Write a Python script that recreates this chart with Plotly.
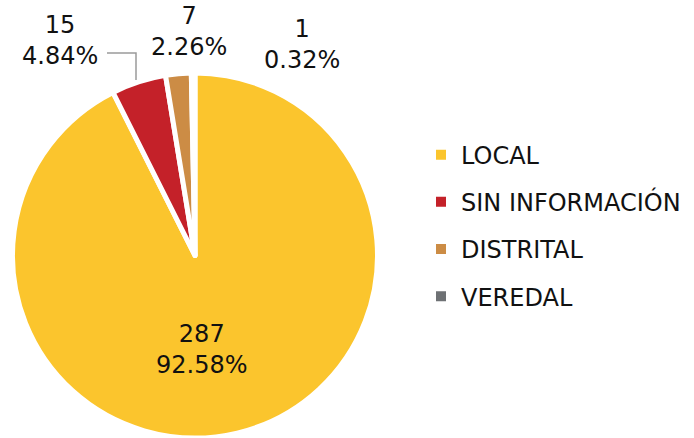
import plotly.graph_objects as go

labels = ["LOCAL", "SIN INFORMACIÓN", "DISTRITAL", "VEREDAL"]
values = [287, 15, 7, 1]
colors = ["#FBC52D", "#C42129", "#CC8C45", "#6E7174"]

FONT = "DejaVu Sans"
W, H = 694, 438

total = sum(values)
percents = [v / total * 100 for v in values]

fig = go.Figure()
fig.add_trace(go.Pie(
    labels=labels,
    values=values,
    marker=dict(colors=colors, line=dict(color="white", width=5)),
    sort=False,
    direction="clockwise",
    rotation=0,
    textinfo="none",
    showlegend=False,
    domain=dict(x=[12 / W, 378 / W], y=[0, 1 - 73 / H]),
    hoverinfo="label+value+percent",
))

for lab, col in zip(labels, colors):
    fig.add_trace(go.Scatter(
        x=[None], y=[None], mode="markers", name=lab,
        marker=dict(symbol="square", size=10, color=col),
        legendgroup=lab, showlegend=True, hoverinfo="skip",
    ))

# label positions (pixels) for each slice's value / percent text
label_pos = {
    "LOCAL": (202, 349),
    "SIN INFORMACIÓN": (60, 41),
    "DISTRITAL": (189, 31),
    "VEREDAL": (302, 44),
}
annotations = []
for lab, v, p in zip(labels, values, percents):
    px, py = label_pos[lab]
    annotations.append(dict(
        x=px / W, y=1 - py / H, xref="paper", yref="paper",
        text=f"{v}<br>{p:.2f}%", showarrow=False,
        xanchor="center", yanchor="middle",
        font=dict(family=FONT, size=24, color="#111111"),
    ))

# leader line for the SIN INFORMACIÓN label
shapes = [dict(
    type="path", xref="paper", yref="paper",
    path=f"M {107 / W} {1 - 53 / H} L {136 / W} {1 - 53 / H} L {136 / W} {1 - 80 / H}",
    line=dict(color="#9A9A9A", width=1.5),
)]

fig.update_layout(
    width=W, height=H,
    margin=dict(l=0, r=0, t=0, b=0),
    paper_bgcolor="white", plot_bgcolor="white",
    xaxis=dict(visible=False), yaxis=dict(visible=False),
    annotations=annotations,
    shapes=shapes,
    legend=dict(
        x=421 / W, y=0.485, xanchor="left", yanchor="middle",
        font=dict(family=FONT, size=24, color="#111111"),
        tracegroupgap=13, itemsizing="trace",
    ),
)

fig.write_html(
    "out.html",
    config={"displayModeBar": False},
    post_script="document.body.style.margin='0';",
)
